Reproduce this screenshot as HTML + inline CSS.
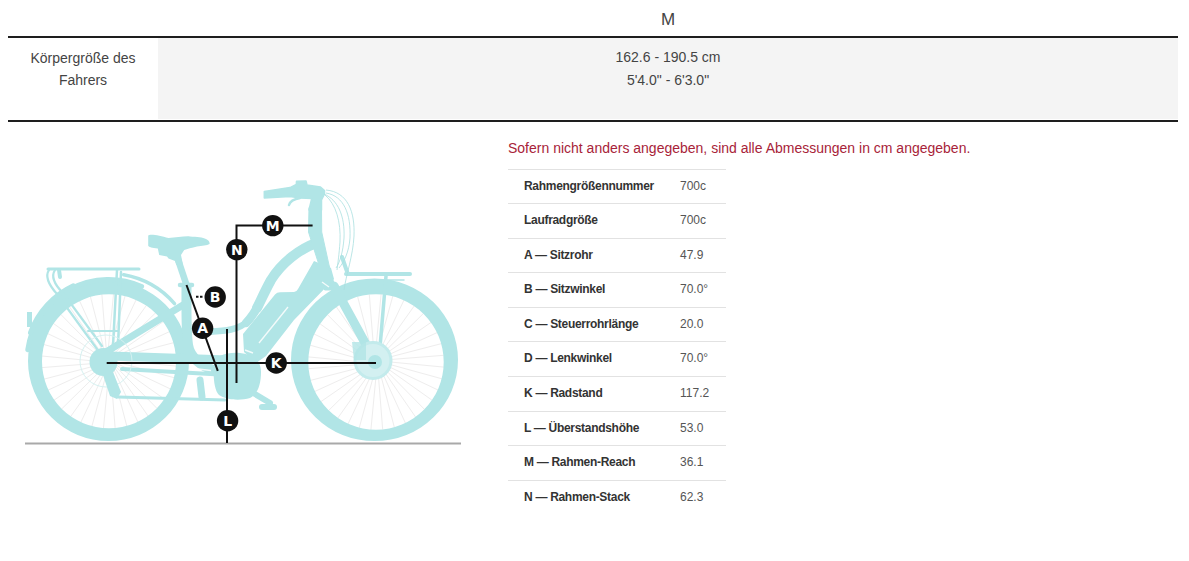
<!DOCTYPE html>
<html lang="de">
<head>
<meta charset="utf-8">
<title>Geometrie</title>
<style>
html,body{margin:0;padding:0;background:#fff;}
body{width:1189px;height:561px;overflow:hidden;position:relative;font-family:"Liberation Sans",Arial,sans-serif;color:#444;}
.abs{position:absolute;white-space:nowrap;}
.hline{position:absolute;left:8px;width:1170px;height:2px;background:#1e1e1e;}
.gray{position:absolute;left:158px;top:38px;width:1020px;height:81px;background:#f4f4f4;}
.c14{font-size:14px;line-height:22px;}
.red{color:#a82339;font-size:14px;line-height:16px;}
.specs{position:absolute;left:508px;top:168.703125px;width:218px;}
.row{position:relative;height:33.546875px;border-top:1px solid #e2e2e2;}
.row .k{position:absolute;left:16px;top:9px;font-size:12px;line-height:14px;font-weight:700;color:#333;letter-spacing:-0.3px;}
.row .v{position:absolute;left:172px;top:9px;font-size:12px;line-height:14px;color:#555;}
</style>
</head>
<body>
<div class="abs" style="left:600px;width:136px;text-align:center;top:11px;font-size:17px;line-height:18px;color:#444;">M</div>
<div class="hline" style="top:36px;"></div>
<div class="gray"></div>
<div class="abs c14" style="left:8px;width:150px;text-align:center;top:47px;white-space:normal;">Körpergröße des<br>Fahrers</div>
<div class="abs c14" style="left:558px;width:220px;text-align:center;top:46px;">162.6 - 190.5 cm</div>
<div class="abs c14" style="left:558px;width:220px;text-align:center;top:69px;">5'4.0" - 6'3.0"</div>
<div class="hline" style="top:120px;"></div>

<div class="abs red" style="left:508px;top:140px;">Sofern nicht anders angegeben, sind alle Abmessungen in cm angegeben.</div>

<div class="specs">
<div class="row"><span class="k">Rahmengrößennummer</span><span class="v">700c</span></div>
<div class="row"><span class="k">Laufradgröße</span><span class="v">700c</span></div>
<div class="row"><span class="k">A — Sitzrohr</span><span class="v">47.9</span></div>
<div class="row"><span class="k">B — Sitzwinkel</span><span class="v">70.0°</span></div>
<div class="row"><span class="k">C — Steuerrohrlänge</span><span class="v">20.0</span></div>
<div class="row"><span class="k">D — Lenkwinkel</span><span class="v">70.0°</span></div>
<div class="row"><span class="k">K — Radstand</span><span class="v">117.2</span></div>
<div class="row"><span class="k">L — Überstandshöhe</span><span class="v">53.0</span></div>
<div class="row"><span class="k">M — Rahmen-Reach</span><span class="v">36.1</span></div>
<div class="row"><span class="k">N — Rahmen-Stack</span><span class="v">62.3</span></div>
</div>

<svg id="bike" class="abs" style="left:0;top:160px;" width="480" height="300" viewBox="0 160 480 300">
<!-- BIKE -->
<g stroke="#eeeded" stroke-width="1" fill="none">
<line x1="113.5" y1="361.0" x2="174.4" y2="377.8"/>
<line x1="113.4" y1="361.9" x2="170.5" y2="389.0"/>
<line x1="113.2" y1="362.7" x2="164.7" y2="399.3"/>
<line x1="112.8" y1="363.5" x2="157.1" y2="408.5"/>
<line x1="112.3" y1="364.2" x2="148.2" y2="416.2"/>
<line x1="111.7" y1="364.8" x2="138.0" y2="422.3"/>
<line x1="111.0" y1="365.3" x2="126.9" y2="426.5"/>
<line x1="110.2" y1="365.7" x2="115.2" y2="428.7"/>
<line x1="109.4" y1="365.9" x2="103.4" y2="428.8"/>
<line x1="108.5" y1="366.0" x2="91.7" y2="426.9"/>
<line x1="107.6" y1="365.9" x2="80.5" y2="423.0"/>
<line x1="106.8" y1="365.7" x2="70.2" y2="417.2"/>
<line x1="106.0" y1="365.3" x2="61.0" y2="409.6"/>
<line x1="105.3" y1="364.8" x2="53.3" y2="400.7"/>
<line x1="104.7" y1="364.2" x2="47.2" y2="390.5"/>
<line x1="104.2" y1="363.5" x2="43.0" y2="379.4"/>
<line x1="103.8" y1="362.7" x2="40.8" y2="367.7"/>
<line x1="103.6" y1="361.9" x2="40.7" y2="355.9"/>
<line x1="103.5" y1="361.0" x2="42.6" y2="344.2"/>
<line x1="103.6" y1="360.1" x2="46.5" y2="333.0"/>
<line x1="103.8" y1="359.3" x2="52.3" y2="322.7"/>
<line x1="104.2" y1="358.5" x2="59.9" y2="313.5"/>
<line x1="104.7" y1="357.8" x2="68.8" y2="305.8"/>
<line x1="105.3" y1="357.2" x2="79.0" y2="299.7"/>
<line x1="106.0" y1="356.7" x2="90.1" y2="295.5"/>
<line x1="106.8" y1="356.3" x2="101.8" y2="293.3"/>
<line x1="107.6" y1="356.1" x2="113.6" y2="293.2"/>
<line x1="108.5" y1="356.0" x2="125.3" y2="295.1"/>
<line x1="109.4" y1="356.1" x2="136.5" y2="299.0"/>
<line x1="110.2" y1="356.3" x2="146.8" y2="304.8"/>
<line x1="111.0" y1="356.7" x2="156.0" y2="312.4"/>
<line x1="111.7" y1="357.2" x2="163.7" y2="321.3"/>
<line x1="112.3" y1="357.8" x2="169.8" y2="331.5"/>
<line x1="112.8" y1="358.5" x2="174.0" y2="342.6"/>
<line x1="113.2" y1="359.3" x2="176.2" y2="354.3"/>
<line x1="113.4" y1="360.1" x2="176.3" y2="366.1"/>
<line x1="381.0" y1="362.0" x2="441.9" y2="378.8"/>
<line x1="380.9" y1="362.9" x2="438.0" y2="390.0"/>
<line x1="380.7" y1="363.7" x2="432.2" y2="400.3"/>
<line x1="380.3" y1="364.5" x2="424.6" y2="409.5"/>
<line x1="379.8" y1="365.2" x2="415.7" y2="417.2"/>
<line x1="379.2" y1="365.8" x2="405.5" y2="423.3"/>
<line x1="378.5" y1="366.3" x2="394.4" y2="427.5"/>
<line x1="377.7" y1="366.7" x2="382.7" y2="429.7"/>
<line x1="376.9" y1="366.9" x2="370.9" y2="429.8"/>
<line x1="376.0" y1="367.0" x2="359.2" y2="427.9"/>
<line x1="375.1" y1="366.9" x2="348.0" y2="424.0"/>
<line x1="374.3" y1="366.7" x2="337.7" y2="418.2"/>
<line x1="373.5" y1="366.3" x2="328.5" y2="410.6"/>
<line x1="372.8" y1="365.8" x2="320.8" y2="401.7"/>
<line x1="372.2" y1="365.2" x2="314.7" y2="391.5"/>
<line x1="371.7" y1="364.5" x2="310.5" y2="380.4"/>
<line x1="371.3" y1="363.7" x2="308.3" y2="368.7"/>
<line x1="371.1" y1="362.9" x2="308.2" y2="356.9"/>
<line x1="371.0" y1="362.0" x2="310.1" y2="345.2"/>
<line x1="371.1" y1="361.1" x2="314.0" y2="334.0"/>
<line x1="371.3" y1="360.3" x2="319.8" y2="323.7"/>
<line x1="371.7" y1="359.5" x2="327.4" y2="314.5"/>
<line x1="372.2" y1="358.8" x2="336.3" y2="306.8"/>
<line x1="372.8" y1="358.2" x2="346.5" y2="300.7"/>
<line x1="373.5" y1="357.7" x2="357.6" y2="296.5"/>
<line x1="374.3" y1="357.3" x2="369.3" y2="294.3"/>
<line x1="375.1" y1="357.1" x2="381.1" y2="294.2"/>
<line x1="376.0" y1="357.0" x2="392.8" y2="296.1"/>
<line x1="376.9" y1="357.1" x2="404.0" y2="300.0"/>
<line x1="377.7" y1="357.3" x2="414.3" y2="305.8"/>
<line x1="378.5" y1="357.7" x2="423.5" y2="313.4"/>
<line x1="379.2" y1="358.2" x2="431.2" y2="322.3"/>
<line x1="379.8" y1="358.8" x2="437.3" y2="332.5"/>
<line x1="380.3" y1="359.5" x2="441.5" y2="343.6"/>
<line x1="380.7" y1="360.3" x2="443.7" y2="355.3"/>
<line x1="380.9" y1="361.1" x2="443.8" y2="367.1"/>
</g>
<path d="M28.0,361 a80.5,80 0 1 0 161.0,0 a80.5,80 0 1 0 -161.0,0 Z M42,361.3 a67,67 0 1 0 134,0 a67,67 0 1 0 -134,0 Z" fill="#b1e5e6" fill-rule="evenodd"/>
<path d="M291.0,359.8 a83.5,81.3 0 1 0 167.0,0 a83.5,81.3 0 1 0 -167.0,0 Z M308.3,362 a67.7,67.7 0 1 0 135.4,0 a67.7,67.7 0 1 0 -135.4,0 Z" fill="#b1e5e6" fill-rule="evenodd"/>
<g fill="none" stroke="#b1e5e6" stroke-linecap="round" stroke-linejoin="round">
<path d="M27.8,349.7 A81.5,81.5 0 0 1 141.6,286.5" stroke-width="5"/>
<path d="M30.5,332.6 A83,83 0 0 1 73.4,285.8" stroke-width="5"/>
<path d="M29.5,312 L29.5,327" stroke-width="5" stroke-linecap="butt"/>
<path d="M123.7,274.8 A87.5,87.5 0 0 1 174.5,303.6" stroke-width="3.5"/>
<path d="M48,269 L139,269" stroke-width="3"/>
<path d="M49,270 C45,276 48,284 57,294 L97,349" stroke-width="2.2"/>
<path d="M55,270 C51,276 54,284 63,293 L102,346" stroke-width="2.2"/>
<path d="M117,270 L113,346" stroke-width="2.5"/>
<path d="M121,272 L118,346" stroke-width="2.5"/>
<path d="M88,331 L118,331" stroke-width="2"/>
<path d="M59,270 L60,277" stroke-width="4"/>
<path d="M106,352 L183,305" stroke-width="7"/>
<path d="M110,356 L228,360" stroke-width="9"/>
<path d="M122,369 L228,375" stroke-width="4"/>
<path d="M118,397 L225,400" stroke-width="3"/>
<path d="M186.5,287 C186.5,310 186,330 188,345 C190,358 200,366 218,372" stroke-width="10"/>
<path d="M177.5,258 L186.2,284" stroke-width="6.6" stroke-linecap="butt"/>
<path d="M180,285 L192,285" stroke-width="4.5"/>
<path d="M316,243 C300,249 282,262 271,280 C265,291 261,300 257,308" stroke-width="10"/>
<path d="M259,304 C255,312 251,318 246,323" stroke-width="8.5"/>
<path d="M248,321 C238,331 222,331 205,332" stroke-width="6.5"/>
<path d="M309,208 L308.5,232 L319,265 L324.6,290 L335.7,290 L329,265 L321.7,232 L321.5,208 Z" fill="#b1e5e6" stroke-width="1"/>
<path d="M264.3,191.5 L290,187.6 L296.3,184.5 L296.5,181.2 L306,181 L307,185 L320.5,187 L324.5,190.5 L324.5,194 L321.5,200 L321.5,210 L309,210 L311.7,198.5 L300,198 L290,196.6 L264.3,198 Z" fill="#b1e5e6" stroke-width="1.5"/>
<path d="M300,198 C294,199 290,201.5 289,205" stroke-width="2.5"/>
<path d="M334,286 L375,361" stroke-width="9"/>
<path d="M346,274 L410,274" stroke-width="4"/>
<path d="M342,257 L347.5,273" stroke-width="4"/>
<path d="M386,276 L379,359" stroke-width="3.5"/>
<path d="M381,280 L404,280" stroke-width="1.5"/>
<path d="M200,380 L202,397" stroke-width="7"/>
<path d="M250,391 L270,403" stroke-width="6"/>
<path d="M262,407 L274,407" stroke-width="6"/>
</g>
<g fill="#b1e5e6">
<path d="M148.2,235.5 C150,233.5 160,235.5 168.5,238 C176,237.5 184,236 190,236.4 C197,236.8 203,237.2 206,239 C209,240.5 210,242.5 209.5,244 C207,245.5 202,246 197,246.4 C192,247.5 187,249 184.2,250 L181,255 L183,265 L176.4,265 L175,261 L168.5,258.5 L167,256.4 L159.2,255 L157.8,248.5 C152,248 149,247 148.2,245.7 Z"/>
<path d="M314,261 L331,268 L334,279 L294,320 L266,356 L256,363 L244,352 L243,334 L275,294.5 Q277,292.3 280,292.3 L294,292 Q297,291.5 298,289 Z"/>
<path d="M214,364 C214,356 226,352 240,353 C252,354 261,360 261,372 C261,384 258,394 250,398 C240,401 226,400 219,395 C214,390 213,376 214,364 Z"/>
</g>
<circle cx="106" cy="361" r="26" fill="none" stroke="#d6f1f1" stroke-width="1"/>
<g fill="#b1e5e6">
<circle cx="103.5" cy="362" r="14"/>
<path d="M102,372 L113,372 L121,392 L117,399 L110,396 Z"/>
</g>
<circle cx="373" cy="360.5" r="18" fill="#d3f0f1" stroke="#c3ebec" stroke-width="3"/>
<circle cx="375" cy="362" r="7" fill="#b1e5e6"/>
<path d="M352,342 L366,342 L366,360 L354,360 Z" fill="#b1e5e6" opacity="0.8"/>
<g fill="none" stroke="#a9dfe0" stroke-width="0.8">
<path d="M326,193 C344,196 351,214 350,238 C349,252 344,262 339,268"/>
<path d="M325,195 C336,204 341,222 340,242 C339,255 338,262 337,270"/>
<path d="M324,194 C338,200 345,216 344,238 C343,252 340,262 336,268"/>
<path d="M326,190 C348,192 355,212 354,236 C353,256 346,275 344,290"/>
</g>
<g stroke="#ffffff" stroke-width="1.4" opacity="0.85" fill="none">
<path d="M288,307 L259,343"/>
<path d="M322,282 L329,287"/>
<path d="M245,350 L253,353"/>
<path d="M194,368.5 L211,370.5"/>
</g>
<path d="M25,443.5 L461,443.5" stroke="#a9a9a9" stroke-width="2"/>
<g stroke="#111" stroke-width="2" fill="none">
<path d="M236.5,383 L236.5,225.6 L312.6,225.6"/>
<path d="M186.5,285 L217.8,370.8"/>
<path d="M106.7,362.9 L376,362.9"/>
<path d="M227,329 L227,443"/>
<path d="M196,296.8 L204,296.8" stroke-dasharray="2.5,1.5"/>
</g>
<circle cx="272.8" cy="225.6" r="10.7" fill="#111"/>
<text x="272.8" y="230.7" text-anchor="middle" font-family="DejaVu Sans, sans-serif" font-weight="700" font-size="14" fill="#fff">M</text>
<circle cx="236.8" cy="249.6" r="10.7" fill="#111"/>
<text x="236.8" y="254.7" text-anchor="middle" font-family="DejaVu Sans, sans-serif" font-weight="700" font-size="14" fill="#fff">N</text>
<circle cx="215.2" cy="297" r="10.7" fill="#111"/>
<text x="215.2" y="302.1" text-anchor="middle" font-family="DejaVu Sans, sans-serif" font-weight="700" font-size="14" fill="#fff">B</text>
<circle cx="202.6" cy="328.2" r="10.7" fill="#111"/>
<text x="202.6" y="333.3" text-anchor="middle" font-family="DejaVu Sans, sans-serif" font-weight="700" font-size="14" fill="#fff">A</text>
<circle cx="276.2" cy="363" r="10.7" fill="#111"/>
<text x="276.2" y="368.1" text-anchor="middle" font-family="DejaVu Sans, sans-serif" font-weight="700" font-size="14" fill="#fff">K</text>
<circle cx="227.6" cy="420.8" r="10.7" fill="#111"/>
<text x="227.6" y="425.9" text-anchor="middle" font-family="DejaVu Sans, sans-serif" font-weight="700" font-size="14" fill="#fff">L</text>
</svg>
</body>
</html>
